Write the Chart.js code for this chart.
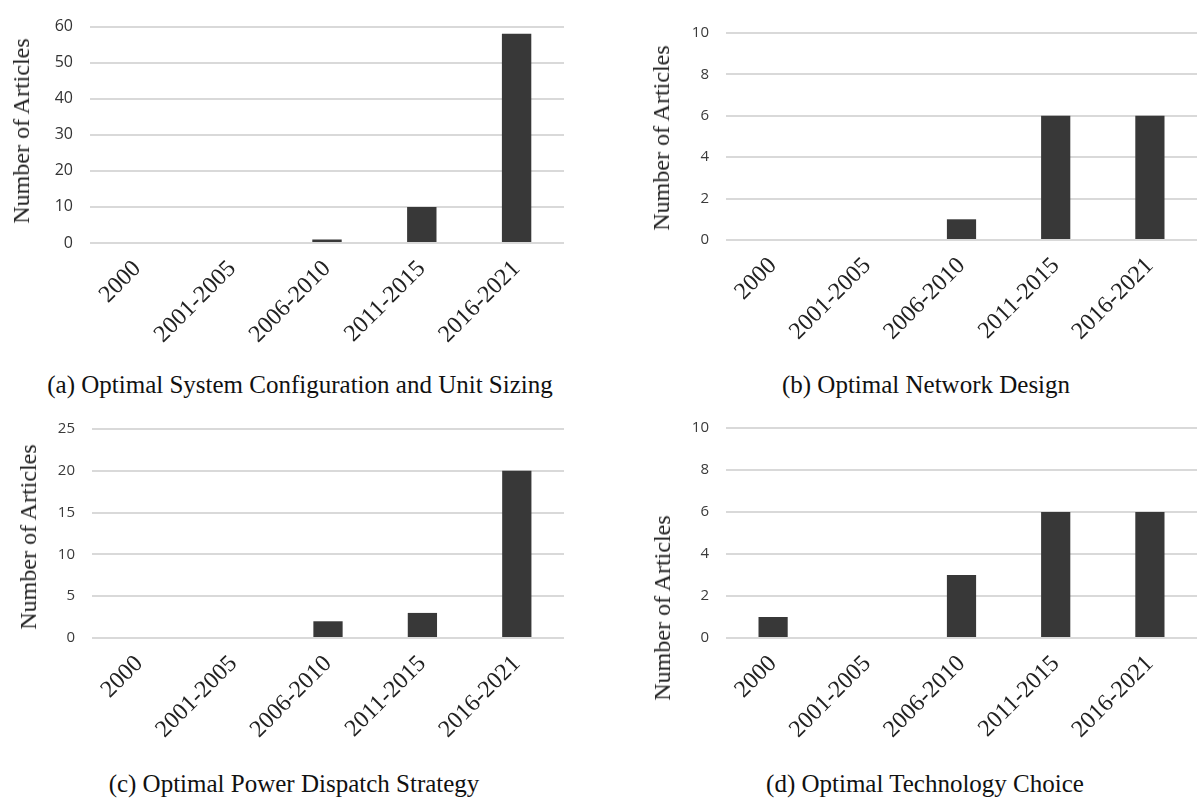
<!DOCTYPE html>
<html><head><meta charset="utf-8">
<script src="https://cdn.jsdelivr.net/npm/chart.js@4"></script>
<style>
html,body{margin:0;padding:0;background:#fff;}
body{width:1198px;height:801px;position:relative;overflow:hidden;}
canvas{position:absolute;}
.cap{position:absolute;font-family:"Liberation Serif",serif;font-size:25px;line-height:25px;color:#111;white-space:nowrap;transform:translateX(-50%);}
.yt{position:absolute;font-family:"Liberation Serif",serif;font-size:24px;line-height:24px;color:#222;white-space:nowrap;transform:translate(-50%,-50%) rotate(-90deg);}
</style></head><body>
<div id="root"></div>
<script>
// ---- data ----
const categories = ['2000', '2001-2005', '2006-2010', '2011-2015', '2016-2021'];
const systemConfigCounts = [0, 0, 1, 10, 58];
const networkDesignCounts = [0, 0, 1, 6, 6];
const powerDispatchCounts = [0, 0, 2, 3, 20];
const technologyChoiceCounts = [1, 0, 3, 6, 6];
const panelCaptions = [
  '(a) Optimal System Configuration and Unit Sizing',
  '(b) Optimal Network Design',
  '(c) Optimal Power Dispatch Strategy',
  '(d) Optimal Technology Choice'
];
const yAxisTitle = 'Number of Articles';
const yMaxValues = [60, 10, 25, 10];
const yStepValues = [10, 2, 5, 2];

// ---- layout (positions only) ----
const panels = [
  {data: systemConfigCounts, canvas: {x: 0, y: 0, w: 599, h: 370}, area: {l: 90, r: 564, t: 17, b: 243},
   title: {x: 21, y: 131}, cap: {x: 300, y: 372}, tickSize: 16, tickColor: '#333'},
  {data: networkDesignCounts, canvas: {x: 599, y: 0, w: 599, h: 370}, area: {l: 127, r: 598, t: 33, b: 240},
   title: {x: 661, y: 138}, cap: {x: 926, y: 372}, tickSize: 15, tickColor: '#3a3a3a'},
  {data: powerDispatchCounts, canvas: {x: 0, y: 400, w: 599, h: 370}, area: {l: 92, r: 564, t: 29, b: 238},
   title: {x: 28, y: 537}, cap: {x: 294, y: 771}, tickSize: 15, tickColor: '#3a3a3a'},
  {data: technologyChoiceCounts, canvas: {x: 599, y: 400, w: 599, h: 370}, area: {l: 127, r: 598, t: 28, b: 238},
   title: {x: 662, y: 608}, cap: {x: 925, y: 771}, tickSize: 15, tickColor: '#3a3a3a'}
];

const root = document.getElementById('root');
panels.forEach((p, i) => {
  const cv = document.createElement('canvas');
  cv.width = p.canvas.w; cv.height = p.canvas.h;
  cv.style.left = p.canvas.x + 'px'; cv.style.top = p.canvas.y + 'px';
  cv.style.width = p.canvas.w + 'px'; cv.style.height = p.canvas.h + 'px';
  root.appendChild(cv);

  const t = document.createElement('div');
  t.className = 'yt'; t.textContent = yAxisTitle;
  t.style.left = p.title.x + 'px'; t.style.top = p.title.y + 'px';
  root.appendChild(t);

  const c = document.createElement('div');
  c.className = 'cap'; c.textContent = panelCaptions[i];
  c.style.left = p.cap.x + 'px'; c.style.top = p.cap.y + 'px';
  root.appendChild(c);

  new Chart(cv, {
    type: 'bar',
    data: {
      labels: categories,
      datasets: [{data: p.data, backgroundColor: '#383838', borderWidth: 0,
                  categoryPercentage: 1, barPercentage: 0.31}]
    },
    options: {
      responsive: false, animation: false, devicePixelRatio: 1,
      layout: {padding: {top: p.area.t, right: p.canvas.w - p.area.r, left: 0, bottom: 0}},
      plugins: {legend: {display: false}, tooltip: {enabled: false}, title: {display: false}},
      scales: {
        x: {
          grid: {display: false, drawTicks: false},
          border: {display: false},
          ticks: {minRotation: 45, maxRotation: 45, autoSkip: false, padding: 12,
                  color: '#222', font: {family: 'Liberation Serif', size: 24}},
          afterFit: s => { s.height = p.canvas.h - p.area.b; }
        },
        y: {
          min: 0, max: yMaxValues[i],
          grid: {color: '#d9d9d9', lineWidth: 2, drawTicks: false},
          border: {display: false},
          ticks: {stepSize: yStepValues[i], padding: 17, color: p.tickColor,
                  font: {family: 'Open Sans', size: p.tickSize}},
          afterFit: s => { s.width = p.area.l; }
        }
      }
    }
  });
});
</script>
</body></html>
